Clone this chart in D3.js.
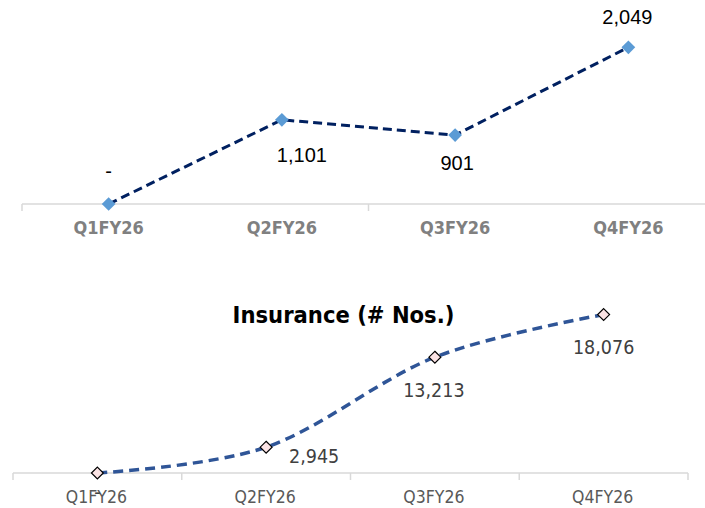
<!DOCTYPE html>
<html>
<head>
<meta charset="utf-8">
<script src="https://cdn.jsdelivr.net/npm/d3@7/dist/d3.min.js"></script>
<style>
  html, body { margin: 0; padding: 0; background: #fff; }
  svg { display: block; }
</style>
</head>
<body>
<svg id="chart" width="705" height="508"></svg>
<script>
// Quarterly periods shared by both panels
const quarters = ["Q1FY26", "Q2FY26", "Q3FY26", "Q4FY26"];

// Upper panel series
const topValues = [0, 1101, 901, 2049];
const topLabels = ["-", "1,101", "901", "2,049"];

// Insurance panel series
const insuranceTitle = "Insurance (# Nos.)";
const insuranceValues = [0, 2945, 13213, 18076];
const insuranceLabels = ["-", "2,945", "13,213", "18,076"];

const svg = d3.select("#chart");

// ---------- Upper panel ----------
const xTop = d3.scaleBand().domain(quarters).range([22, 715]);
const yTop = d3.scaleLinear().domain([0, 2500]).range([204, 12.8]);
const gTop = svg.append("g");

// category axis: baseline with a tick every second category
gTop.append("line")
  .attr("x1", xTop.range()[0]).attr("x2", xTop.range()[1])
  .attr("y1", yTop(0)).attr("y2", yTop(0))
  .attr("stroke", "#d9d9d9").attr("stroke-width", 1.5);
gTop.selectAll("line.tick")
  .data(quarters.filter((d, i) => i % 2 === 0))
  .join("line").attr("class", "tick")
  .attr("x1", d => xTop(d)).attr("x2", d => xTop(d))
  .attr("y1", yTop(0)).attr("y2", yTop(0) + 7)
  .attr("stroke", "#d9d9d9").attr("stroke-width", 1.5);
gTop.selectAll("text.cat")
  .data(quarters).join("text").attr("class", "cat")
  .attr("x", d => xTop(d) + xTop.bandwidth() / 2)
  .attr("y", 234)
  .attr("text-anchor", "middle")
  .attr("font-family", "DejaVu Sans Condensed, DejaVu Sans")
  .attr("font-weight", "bold")
  .attr("font-size", 18)
  .attr("fill", "#808080")
  .text(d => d);

const topPts = quarters.map((q, i) => ({ q, v: topValues[i], label: topLabels[i] }));
const cxTop = d => xTop(d.q) + xTop.bandwidth() / 2;

gTop.append("path")
  .datum(topPts)
  .attr("fill", "none")
  .attr("stroke", "#002060")
  .attr("stroke-width", 3)
  .attr("stroke-dasharray", "9,5")
  .attr("d", d3.line().x(cxTop).y(d => yTop(d.v)));

gTop.selectAll("path.mk")
  .data(topPts).join("path").attr("class", "mk")
  .attr("transform", d => `translate(${cxTop(d)},${yTop(d.v)})`)
  .attr("d", d3.symbol(d3.symbolDiamond2, 120)())
  .attr("fill", "#5B9BD5");

// value labels: above for the end points, below for the middle ones
const topLabelPos = [
  { dx: 0, y: 178 },
  { dx: 20, y: 162 },
  { dx: 2, y: 170 },
  { dx: -1, y: 24 }
];
gTop.selectAll("text.val")
  .data(topPts).join("text").attr("class", "val")
  .attr("x", (d, i) => cxTop(d) + topLabelPos[i].dx)
  .attr("y", (d, i) => topLabelPos[i].y)
  .attr("text-anchor", "middle")
  .attr("font-family", "Liberation Sans, Arial, sans-serif")
  .attr("font-size", 20)
  .attr("fill", "#000")
  .text(d => d.label);

// ---------- Insurance panel ----------
const xIns = d3.scaleBand().domain(quarters).range([13, 688]);
const yIns = d3.scaleLinear().domain([0, 20000]).range([473, 297.7]);
const gIns = svg.append("g");

gIns.append("text")
  .attr("x", 343.5).attr("y", 322.5)
  .attr("text-anchor", "middle")
  .attr("font-family", "DejaVu Sans Condensed, DejaVu Sans")
  .attr("font-weight", "bold")
  .attr("font-size", 23.5)
  .attr("fill", "#000")
  .text(insuranceTitle);

gIns.append("line")
  .attr("x1", xIns.range()[0]).attr("x2", xIns.range()[1])
  .attr("y1", yIns(0)).attr("y2", yIns(0))
  .attr("stroke", "#d9d9d9").attr("stroke-width", 1.5);
gIns.selectAll("line.tick")
  .data(quarters.concat(["end"]))
  .join("line").attr("class", "tick")
  .attr("x1", d => d === "end" ? xIns.range()[1] : xIns(d))
  .attr("x2", d => d === "end" ? xIns.range()[1] : xIns(d))
  .attr("y1", yIns(0)).attr("y2", yIns(0) + 7)
  .attr("stroke", "#d9d9d9").attr("stroke-width", 1.5);
gIns.selectAll("text.cat")
  .data(quarters).join("text").attr("class", "cat")
  .attr("x", d => xIns(d) + xIns.bandwidth() / 2 - 1)
  .attr("y", 502.5)
  .attr("text-anchor", "middle")
  .attr("font-family", "DejaVu Sans Condensed, DejaVu Sans")
  .attr("font-size", 17.5)
  .attr("fill", "#595959")
  .text(d => d);

const insPts = quarters.map((q, i) => ({ q, v: insuranceValues[i], label: insuranceLabels[i] }));
const cxIns = d => xIns(d.q) + xIns.bandwidth() / 2;

gIns.append("path")
  .datum(insPts)
  .attr("fill", "none")
  .attr("stroke", "#2F5597")
  .attr("stroke-width", 3.5)
  .attr("stroke-dasharray", "10,6")
  .attr("d", d3.line().x(cxIns).y(d => yIns(d.v)).curve(d3.curveCatmullRom.alpha(0)));

// value labels placed below-right of each point
const insLabelPos = [
  { dx: 0, y: 499 },
  { dx: 48, y: 462.5 },
  { dx: -1, y: 396.5 },
  { dx: 0, y: 354 }
];
gIns.selectAll("text.val")
  .data(insPts).join("text").attr("class", "val")
  .attr("x", (d, i) => cxIns(d) + insLabelPos[i].dx)
  .attr("y", (d, i) => insLabelPos[i].y)
  .attr("text-anchor", "middle")
  .attr("font-family", "DejaVu Sans Condensed, DejaVu Sans")
  .attr("font-size", 19.5)
  .attr("fill", "#404040")
  .text(d => d.label);

gIns.selectAll("path.mk")
  .data(insPts).join("path").attr("class", "mk")
  .attr("transform", d => `translate(${cxIns(d)},${yIns(d.v)})`)
  .attr("d", d3.symbol(d3.symbolDiamond2, 90)())
  .attr("fill", "#FBE3E4")
  .attr("stroke", "#000")
  .attr("stroke-width", 1.2);
</script>
</body>
</html>
